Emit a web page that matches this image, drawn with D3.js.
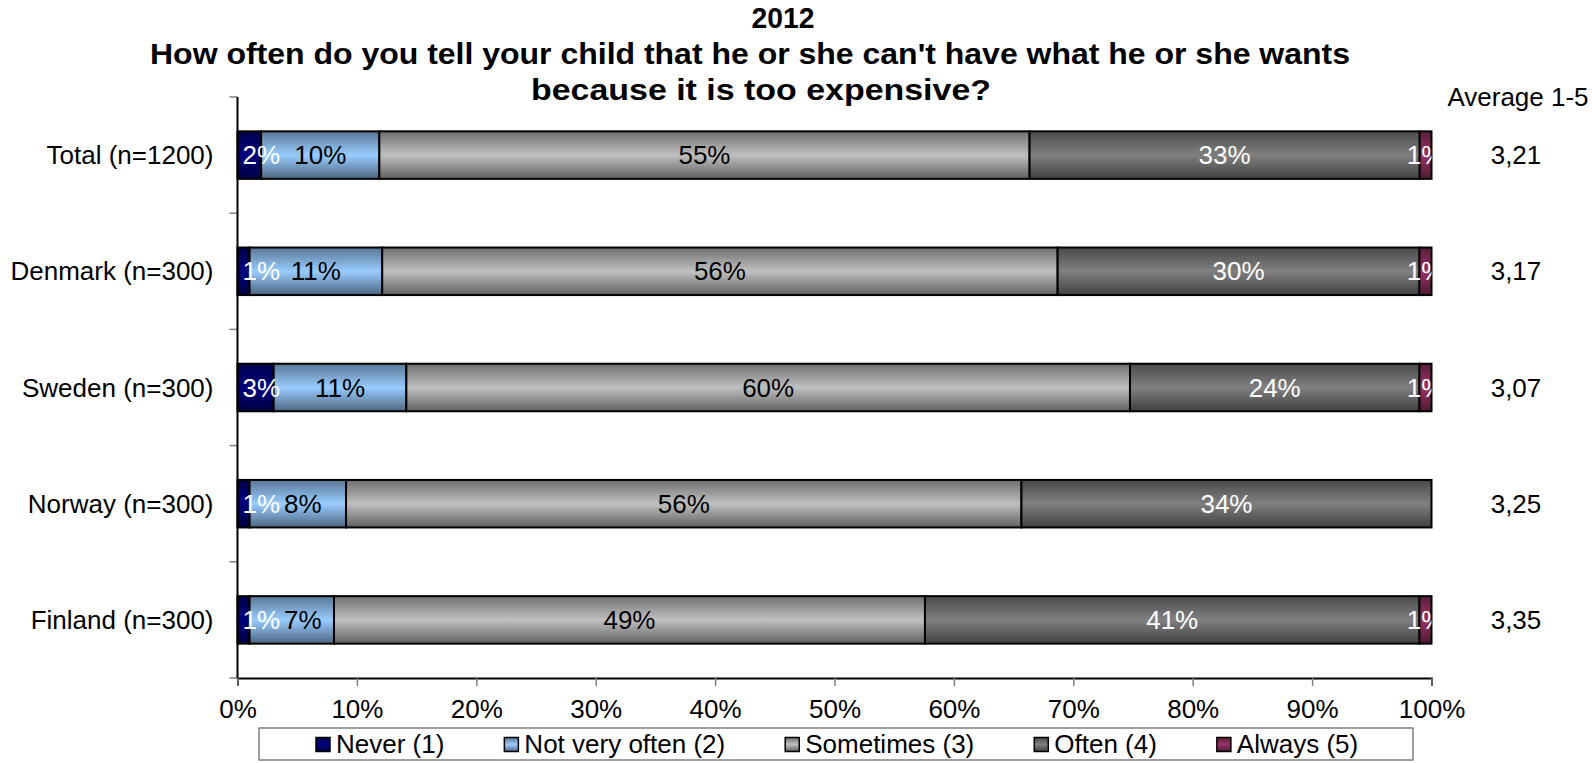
<!DOCTYPE html>
<html>
<head>
<meta charset="utf-8">
<script src="https://cdn.jsdelivr.net/npm/d3@7/dist/d3.min.js"></script>
<style>
  html, body { margin: 0; padding: 0; background: #fff; }
  svg { display: block; font-family: "Liberation Sans", Arial, sans-serif; }
</style>
</head>
<body>
<svg id="chart" width="1592" height="763"></svg>
<script>
// Survey answers per country, percent of respondents
const categories = ["Total (n=1200)", "Denmark (n=300)", "Sweden (n=300)", "Norway (n=300)", "Finland (n=300)"];
const seriesNames = ["Never (1)", "Not very often (2)", "Sometimes (3)", "Often (4)", "Always (5)"];
const never        = [2, 1, 3, 1, 1];
const notVeryOften = [10, 11, 11, 8, 7];
const sometimes    = [55, 56, 60, 56, 49];
const often        = [33, 30, 24, 34, 41];
const always       = [1, 1, 1, 0, 1];
const averages     = ["3,21", "3,17", "3,07", "3,25", "3,35"];
const tickValues   = [0, 10, 20, 30, 40, 50, 60, 70, 80, 90, 100];
const titleLines   = ["2012",
  "How often do you tell your child that he or she can't have what he or she wants",
  "because it is too expensive?"];
const averageHeader = "Average 1-5";

const seriesColors = ["#000080", "#99CCFF", "#C0C0C0", "#808080", "#993366"];
const labelColors  = ["#ffffff", "#000000", "#000000", "#ffffff", "#ffffff"];

const seriesValues = [never, notVeryOften, sometimes, often, always];
const rows = categories.map((c, i) => {
  const r = { category: c };
  seriesNames.forEach((s, k) => { r[s] = seriesValues[k][i]; });
  return r;
});

const svg = d3.select("#chart");
const FONT = 26;

// plot area
const plotLeft = 237.5, plotRight = 1431.5, plotTop = 97, plotBottom = 678;

const x = d3.scaleLinear().domain([0, 1]).range([plotLeft, plotRight]);
const y = d3.scaleBand().domain(categories).range([plotTop, plotBottom])
  .paddingInner(0.591).paddingOuter(0.2955);

// 100% stacked layout
const stacked = d3.stack().keys(seriesNames).offset(d3.stackOffsetExpand)(rows);

// vertical shaded fills for each series
const defs = svg.append("defs");
seriesColors.forEach((c, k) => {
  const g = defs.append("linearGradient").attr("id", "grad" + k)
    .attr("x1", 0).attr("y1", 0).attr("x2", 0).attr("y2", 1);
  g.append("stop").attr("offset", "0%").attr("stop-color", d3.interpolateRgb(c, "#000")(0.42));
  g.append("stop").attr("offset", "50%").attr("stop-color", c);
  g.append("stop").attr("offset", "100%").attr("stop-color", d3.interpolateRgb(c, "#000")(0.5));
});
defs.append("clipPath").attr("id", "plotClip")
  .append("rect").attr("x", plotLeft).attr("y", 0).attr("width", plotRight - plotLeft).attr("height", 763);

// title, three centred lines
const titleCenters = [783, 750, 761];
const titleWidths = [63, 1200, 460];
svg.append("g").selectAll("text").data(titleLines).join("text")
  .attr("x", (d, i) => titleCenters[i])
  .attr("y", (d, i) => 28 + i * 36)
  .attr("text-anchor", "middle")
  .attr("font-weight", "bold")
  .attr("font-size", 30)
  .attr("textLength", (d, i) => titleWidths[i])
  .attr("lengthAdjust", "spacingAndGlyphs")
  .text(d => d);

// bars
const barG = svg.append("g");
stacked.forEach((layer, k) => {
  barG.append("g").selectAll("rect").data(layer).join("rect")
    .attr("x", d => x(d[0]))
    .attr("y", d => y(d.data.category))
    .attr("width", d => x(d[1]) - x(d[0]))
    .attr("height", y.bandwidth())
    .attr("fill", `url(#grad${k})`)
    .attr("stroke", "#000")
    .attr("stroke-width", 2);
});

// value labels: centred on their segment, kept inside the plot on the left,
// nudged right when they would run into the previous label, clipped on the right
const labelG = svg.append("g").attr("clip-path", "url(#plotClip)")
  .attr("font-size", FONT);
rows.forEach((row, i) => {
  let prevEnd = -Infinity;
  stacked.forEach((layer, k) => {
    const d = layer[i];
    const v = row[layer.key];
    if (!v) return;
    const t = labelG.append("text")
      .attr("y", y(row.category) + y.bandwidth() / 2)
      .attr("dy", "0.35em")
      .attr("text-anchor", "middle")
      .attr("fill", labelColors[k])
      .text(v + "%");
    const w = t.node().getComputedTextLength();
    let cx = (x(d[0]) + x(d[1])) / 2;
    cx = Math.max(cx, plotLeft + w / 2 + 5);
    if (k < 2) cx = Math.max(cx, prevEnd + 4 + w / 2);
    t.attr("x", cx);
    prevEnd = cx + w / 2;
  });
});

// y axis
const yAxisG = svg.append("g");
yAxisG.selectAll("line.tick").data(d3.range(categories.length + 1)).join("line")
  .attr("x1", plotLeft - 8).attr("x2", plotLeft)
  .attr("y1", i => plotTop + i * y.step()).attr("y2", i => plotTop + i * y.step())
  .attr("stroke", "#808080").attr("stroke-width", 1.5);
yAxisG.append("line").attr("x1", plotLeft).attr("x2", plotLeft).attr("y1", plotTop).attr("y2", plotBottom)
  .attr("stroke", "#000").attr("stroke-width", 2);
yAxisG.selectAll("text").data(categories).join("text")
  .attr("x", plotLeft - 24)
  .attr("y", d => y(d) + y.bandwidth() / 2)
  .attr("dy", "0.35em")
  .attr("text-anchor", "end")
  .attr("font-size", FONT)
  .text(d => d);

// x axis
const xAxis = d3.axisBottom(x)
  .tickValues(tickValues.map(v => v / 100))
  .tickFormat(d => Math.round(d * 100) + "%")
  .tickSize(8).tickPadding(14);
const xAxisG = svg.append("g").attr("transform", `translate(0,${plotBottom})`).call(xAxis);
xAxisG.select(".domain").attr("stroke", "#000").attr("stroke-width", 2);
xAxisG.selectAll(".tick line").attr("stroke", "#808080").attr("stroke-width", 1.5);
xAxisG.selectAll(".tick text").attr("font-size", FONT)
  .attr("font-family", "'Liberation Sans', Arial, sans-serif").attr("fill", "#000");

// averages column
svg.append("text").attr("x", 1518).attr("y", 106).attr("text-anchor", "middle")
  .attr("font-size", FONT).text(averageHeader);
svg.append("g").selectAll("text").data(categories).join("text")
  .attr("x", 1516)
  .attr("y", d => y(d) + y.bandwidth() / 2)
  .attr("dy", "0.35em")
  .attr("text-anchor", "middle")
  .attr("font-size", FONT)
  .text((d, i) => averages[i]);

// legend
const legendG = svg.append("g");
legendG.append("rect").attr("x", 259).attr("y", 728).attr("width", 1154).attr("height", 32)
  .attr("fill", "#fff").attr("stroke", "#808080").attr("stroke-width", 1.5);
let lx = 316;
seriesNames.forEach((s, k) => {
  legendG.append("rect").attr("x", lx).attr("y", 737.5).attr("width", 14).attr("height", 14)
    .attr("fill", `url(#grad${k})`).attr("stroke", "#000").attr("stroke-width", 1.5);
  const t = legendG.append("text").attr("x", lx + 20).attr("y", 744).attr("dy", "0.35em")
    .attr("font-size", FONT).text(s);
  lx += 20 + t.node().getComputedTextLength() + 60;
});
</script>
</body>
</html>
